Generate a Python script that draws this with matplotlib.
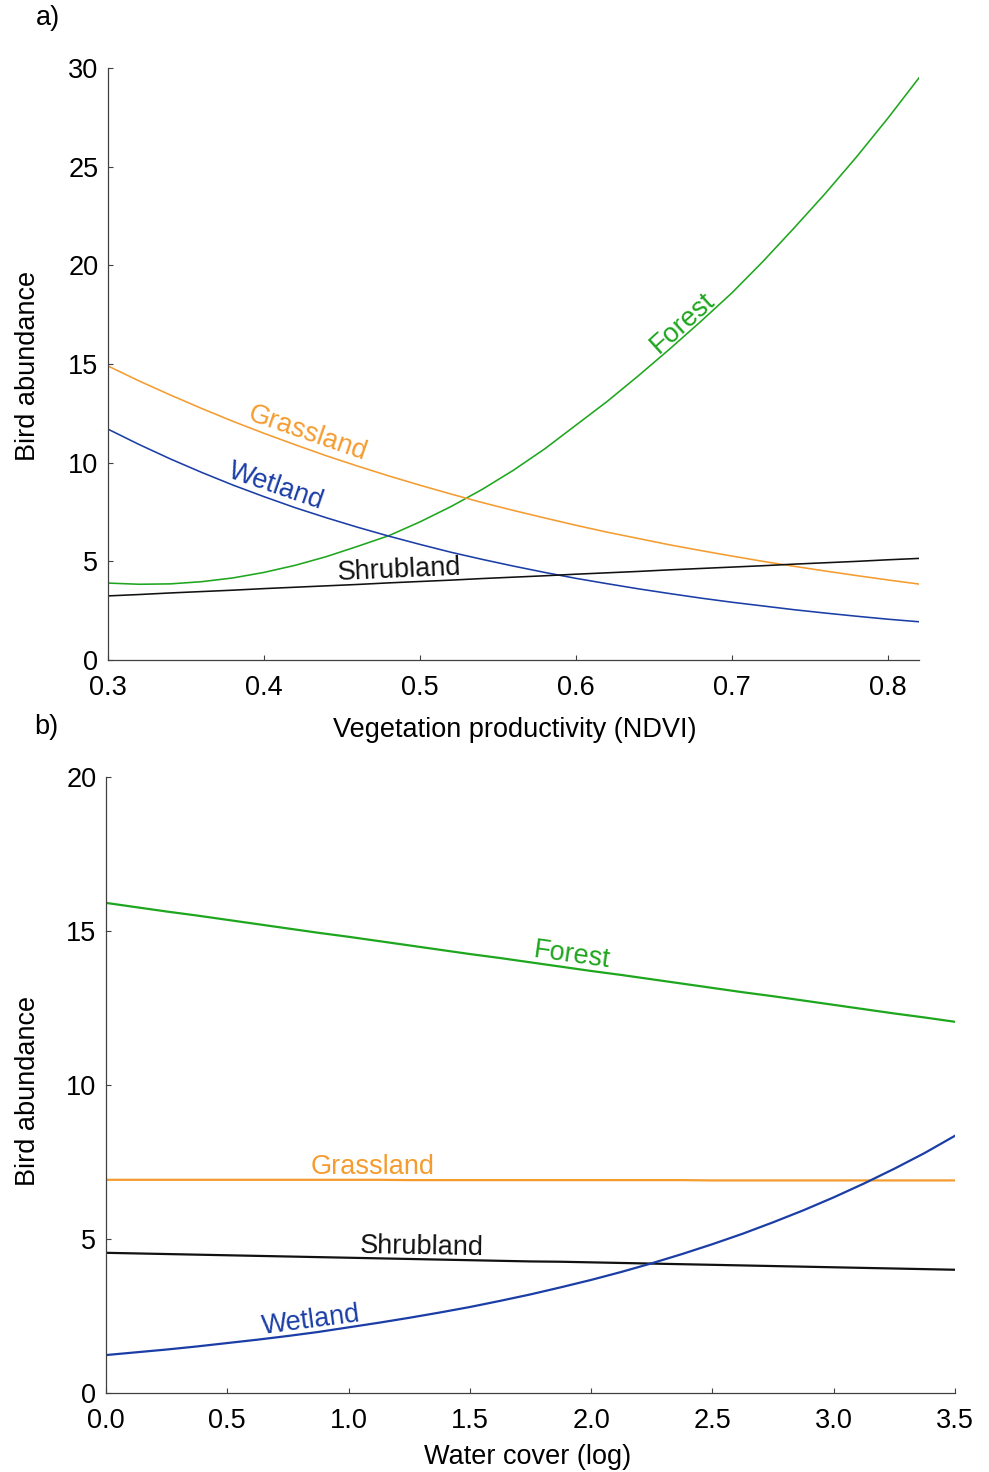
import matplotlib
matplotlib.use("Agg")
import matplotlib.pyplot as plt

plt.rcParams['font.family'] = ['Liberation Sans', 'DejaVu Sans']
plt.rcParams['font.size'] = 19.5

# panel a: bird abundance vs NDVI
ndvi = [0.30, 0.32, 0.34, 0.36, 0.38, 0.40, 0.42, 0.44, 0.46, 0.48, 0.50, 0.52, 0.54,
        0.56, 0.58, 0.60, 0.62, 0.64, 0.66, 0.68, 0.70, 0.72, 0.74, 0.76, 0.78, 0.80, 0.82]
forest_a = [3.90, 3.84, 3.86, 3.97, 4.16, 4.44, 4.80, 5.24, 5.76, 6.30, 7.00, 7.78, 8.65,
            9.62, 10.70, 11.90, 13.10, 14.40, 15.75, 17.15, 18.60, 20.20, 21.90, 23.65, 25.50, 27.45, 29.50]
grass_a = [14.90, 14.14, 13.43, 12.75, 12.10, 11.49, 10.91, 10.35, 9.83, 9.33, 8.86, 8.41, 7.98,
           7.58, 7.20, 6.83, 6.48, 6.16, 5.84, 5.55, 5.27, 5.00, 4.75, 4.51, 4.28, 4.06, 3.85]
wet_a = [11.70, 10.92, 10.19, 9.51, 8.87, 8.28, 7.72, 7.21, 6.73, 6.28, 5.86, 5.46, 5.10,
         4.76, 4.44, 4.14, 3.87, 3.61, 3.37, 3.14, 2.93, 2.74, 2.55, 2.38, 2.22, 2.07, 1.94]
shrub_a = [3.25, 3.32, 3.40, 3.47, 3.54, 3.62, 3.69, 3.76, 3.83, 3.91, 3.98, 4.05, 4.13,
           4.20, 4.27, 4.35, 4.42, 4.49, 4.57, 4.64, 4.71, 4.78, 4.86, 4.93, 5.00, 5.08, 5.15]

# panel b: bird abundance vs water cover
water = [0.0, 0.125, 0.25, 0.375, 0.5, 0.625, 0.75, 0.875, 1.0, 1.125, 1.25, 1.375, 1.5, 1.625,
         1.75, 1.875, 2.0, 2.125, 2.25, 2.375, 2.5, 2.625, 2.75, 2.875, 3.0, 3.125, 3.25, 3.375, 3.5]
forest_b = [15.91, 15.77, 15.63, 15.50, 15.36, 15.22, 15.08, 14.94, 14.81, 14.67, 14.53, 14.39, 14.25, 14.12,
            13.98, 13.84, 13.70, 13.57, 13.43, 13.29, 13.15, 13.01, 12.88, 12.74, 12.60, 12.46, 12.32, 12.19, 12.05]
grass_b = [6.92, 6.92, 6.92, 6.92, 6.92, 6.92, 6.92, 6.92, 6.92, 6.92, 6.91, 6.91, 6.91, 6.91,
           6.91, 6.91, 6.91, 6.91, 6.91, 6.91, 6.90, 6.90, 6.90, 6.90, 6.90, 6.90, 6.90, 6.90, 6.90]
shrub_b = [4.55, 4.53, 4.51, 4.49, 4.47, 4.45, 4.43, 4.41, 4.39, 4.37, 4.35, 4.33, 4.31, 4.29,
           4.27, 4.26, 4.24, 4.22, 4.20, 4.18, 4.16, 4.14, 4.12, 4.10, 4.08, 4.06, 4.04, 4.02, 4.00]
wet_b = [1.23, 1.32, 1.41, 1.51, 1.62, 1.73, 1.85, 1.98, 2.13, 2.28, 2.44, 2.61, 2.79, 2.99,
         3.20, 3.43, 3.67, 3.93, 4.21, 4.51, 4.83, 5.17, 5.54, 5.93, 6.35, 6.80, 7.28, 7.79, 8.35]

GREEN = '#1ea61e'
ORANGE = '#f59c30'
BLUE = '#1b3ea6'
BLACK = '#111111'
SPINE = '#404040'

fig = plt.figure(figsize=(9.89, 14.72), dpi=100)
ax1 = fig.add_axes([0.1092, 0.5516, 0.8200, 0.4022])
ax2 = fig.add_axes([0.1072, 0.0537, 0.8584, 0.4185])

lw_a = 1.15
ax1.plot(ndvi, forest_a, color=GREEN, lw=lw_a)
ax1.plot(ndvi, grass_a, color=ORANGE, lw=lw_a)
ax1.plot(ndvi, wet_a, color=BLUE, lw=lw_a)
ax1.plot(ndvi, shrub_a, color=BLACK, lw=lw_a)

ax1.text(0.428, 11.5, 'Grassland', color=ORANGE, rotation=-19, ha='center', va='center')
ax1.text(0.4077, 8.77, 'Wetland', color=BLUE, rotation=-19, ha='center', va='center')
ax1.text(0.487, 4.56, 'Shrubland', color=BLACK, rotation=2.5, ha='center', va='center')
ax1.text(0.6686, 17.08, 'Forest', color=GREEN, rotation=42, ha='center', va='center')

ax1.set_xlim(0.3, 0.82)
ax1.set_ylim(0, 30)
ax1.set_xticks([0.3, 0.4, 0.5, 0.6, 0.7, 0.8])
ax1.set_yticks([0, 5, 10, 15, 20, 25, 30])
ax1.set_xlabel('Vegetation productivity (NDVI)')
ax1.set_ylabel('Bird abundance')
ax1.xaxis.set_label_coords(0.502, -0.118)
ax1.xaxis.label.set_va('center')
ax1.yaxis.set_label_coords(-0.0986, 0.496)
ax1.yaxis.label.set_va('center')

lw_b = 1.6
ax2.plot(water, forest_b, color=GREEN, lw=lw_b)
ax2.plot(water, grass_b, color=ORANGE, lw=lw_b)
ax2.plot(water, shrub_b, color=BLACK, lw=lw_b)
ax2.plot(water, wet_b, color=BLUE, lw=lw_b)

ax2.text(1.921, 14.22, 'Forest', color=GREEN, rotation=-8, ha='center', va='center')
ax2.text(1.10, 7.34, 'Grassland', color=ORANGE, rotation=0, ha='center', va='center')
ax2.text(1.303, 4.74, 'Shrubland', color=BLACK, rotation=-1, ha='center', va='center')
ax2.text(0.845, 2.34, 'Wetland', color=BLUE, rotation=7.5, ha='center', va='center')

ax2.set_xlim(0, 3.5)
ax2.set_ylim(0, 20)
ax2.set_xticks([0.0, 0.5, 1.0, 1.5, 2.0, 2.5, 3.0, 3.5])
ax2.set_xticklabels(['0.0', '0.5', '1.0', '1.5', '2.0', '2.5', '3.0', '3.5'])
ax2.set_yticks([0, 5, 10, 15, 20])
ax2.set_xlabel('Water cover (log)')
ax2.set_ylabel('Bird abundance')
ax2.xaxis.set_label_coords(0.496, -0.104)
ax2.xaxis.label.set_va('center')
ax2.yaxis.set_label_coords(-0.0919, 0.49)
ax2.yaxis.label.set_va('center')

for ax in (ax1, ax2):
    ax.spines['top'].set_visible(False)
    ax.spines['right'].set_visible(False)
    for s in ('left', 'bottom'):
        ax.spines[s].set_color(SPINE)
        ax.spines[s].set_linewidth(0.9)
    ax.tick_params(direction='in', length=3.5, width=0.8, color=SPINE)
    ax.tick_params(axis='x', pad=10.5)
    ax.tick_params(axis='y', pad=7)

fig.text(48 / 989, 1 - 18 / 1472, 'a)', ha='center', va='center')
fig.text(46 / 989, 1 - 727 / 1472, 'b)', ha='center', va='center')

fig.savefig('out.png', dpi=100, facecolor='white')
